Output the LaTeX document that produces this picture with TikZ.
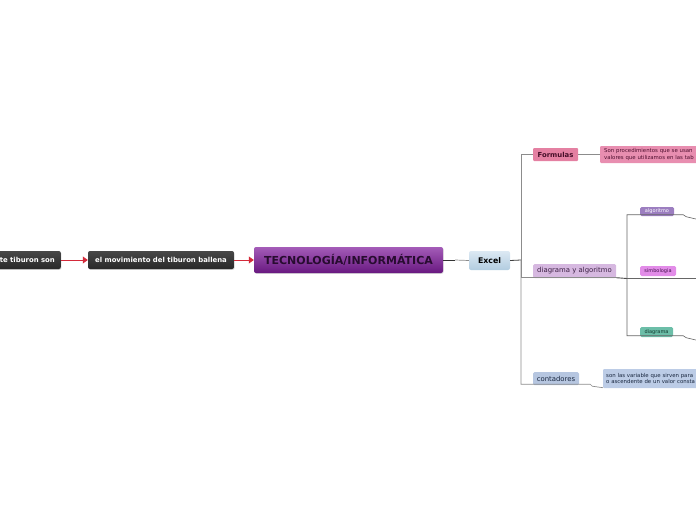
\documentclass[tikz,border=0pt]{standalone}
\usepackage{fontspec}
\setmainfont{DejaVu Sans}
\usetikzlibrary{arrows.meta,shadows}
\definecolor{redarr}{HTML}{D42A3A}
\definecolor{linegray}{HTML}{8C8C8C}
\begin{document}
\begin{tikzpicture}[x=1pt,y=-1pt,
  box/.style={rectangle, rounded corners=2pt, inner sep=0pt, anchor=center},
  darkbox/.style={box, top color=black!72, bottom color=black!84, text=white, font=\fontsize{6.9}{7.5}\selectfont\bfseries,
     drop shadow={shadow xshift=0.6pt, shadow yshift=-0.8pt, opacity=0.35}},
  central/.style={box, top color={rgb,255:red,164;green,92;blue,184}, bottom color={rgb,255:red,104;green,24;blue,128},
     text={rgb,255:red,40;green,12;blue,48}, font=\fontsize{11}{13}\selectfont\bfseries,
     drop shadow={shadow xshift=0.6pt, shadow yshift=-0.8pt, opacity=0.3}},
  excelbox/.style={box, top color={rgb,255:red,220;green,233;blue,243}, bottom color={rgb,255:red,178;green,204;blue,224},
     text=black, font=\fontsize{7.8}{9}\selectfont\bfseries},
  formbox/.style={box, rounded corners=1pt, fill={rgb,255:red,228;green,128;blue,162}, text={rgb,255:red,70;green,14;blue,40},
     font=\fontsize{6.9}{8}\selectfont\bfseries},
  fdescbox/.style={box, rounded corners=1pt, fill={rgb,255:red,232;green,142;blue,176}, text={rgb,255:red,80;green,16;blue,48},
     font=\fontsize{5.4}{6.6}\selectfont, align=left},
  dyabox/.style={box, rounded corners=1.5pt, fill={rgb,255:red,214;green,184;blue,224}, text={rgb,255:red,60;green,32;blue,68},
     font=\fontsize{6.9}{8}\selectfont},
  algbox/.style={box, rounded corners=1.5pt, fill={rgb,255:red,156;green,126;blue,192}, text=white,
     font=\fontsize{5}{6}\selectfont},
  simbbox/.style={box, rounded corners=1.5pt, fill={rgb,255:red,226;green,140;blue,232}, text={rgb,255:red,70;green,16;blue,80},
     font=\fontsize{5}{6}\selectfont},
  diagbox/.style={box, rounded corners=1.5pt, fill={rgb,255:red,108;green,190;blue,168}, text={rgb,255:red,16;green,56;blue,46},
     font=\fontsize{5}{6}\selectfont},
  contbox/.style={box, rounded corners=1.5pt, fill={rgb,255:red,182;green,198;blue,224}, text={rgb,255:red,26;green,40;blue,64},
     font=\fontsize{6.9}{8}\selectfont},
  cdescbox/.style={box, rounded corners=1pt, fill={rgb,255:red,188;green,204;blue,230}, text={rgb,255:red,26;green,40;blue,64},
     font=\fontsize{5.4}{6.6}\selectfont, align=left},
  redarrow/.style={draw=redarr, line width=0.8pt, -{Triangle[length=5pt,width=7pt]}},
  conn/.style={draw=linegray, line width=0.7pt},
  darkconn/.style={draw=black!60, line width=0.6pt},
]
\useasboundingbox (0,0) rectangle (696,520);

% left chain
\node[darkbox, anchor=east, minimum height=18, text width=62pt, align=right, inner xsep=6pt] (n0) at (61,260) {te tiburon son};
\node[darkbox, minimum width=146, minimum height=18] (n1) at (161,260) {el movimiento del tiburon ballena};
\node[central, minimum width=189, minimum height=26] (c) at (348.5,260) {TECNOLOGÍA/INFORMÁTICA};
\draw[redarrow] (n0) -- (n1);
\draw[redarrow] (n1) -- (c);

% Excel
\node[excelbox, minimum width=41, minimum height=19] (excel) at (489.5,260.5) {Excel};
\draw[line width=1pt, black!80] (c.east) -- ++(12,0) coordinate (cmid);
\draw[conn] (cmid) -- (excel.west);
\coordinate (trunk) at (521,260);
\draw[line width=0.8pt, black!75] (excel.east) -- (trunk);

% Formulas
\node[formbox, minimum width=45, minimum height=13] (form) at (555.5,154.5) {Formulas};
\node[fdescbox, anchor=west, minimum height=17, text width=110pt, inner xsep=4pt] (fdesc) at (600,154.5)
  {Son procedimientos que se usan\\valores que utilizamos en las tab};
\draw[conn] (trunk) |- (form.west);
\draw[conn] (form.east) -- (fdesc.west);

% diagrama y algoritmo
\node[dyabox, minimum width=83, minimum height=14] (dya) at (574.5,271) {diagrama y algoritmo};
\coordinate (hub) at (627,278.5);
\draw[conn] (trunk) |- ([yshift=0.5pt]dya.south west) -- ([yshift=0.5pt]dya.south east);
\draw[line width=0.9pt, black!70] ([yshift=0.5pt]dya.south east) -- (hub);

\node[algbox, minimum width=34, minimum height=9] (alg) at (657,211.5) {algoritmo};
\node[simbbox, minimum width=36, minimum height=10] (simb) at (658,271) {simbologia};
\node[diagbox, minimum width=33, minimum height=10] (diag) at (656.5,332) {diagrama};
\coordinate (algend) at (700,220);
\coordinate (simbend) at (700,278.5);
\coordinate (diagend) at (700,341);
\draw[darkconn] (hub) |- ([yshift=1.5pt]alg.south west) -- ([yshift=1.5pt]alg.south east) -- ++(9,0) -- ++(3,2) -- (algend);
\draw[darkconn] (hub) -- (simbend);
\draw[darkconn] (hub) |- ([yshift=1.5pt]diag.south west) -- ([yshift=1.5pt]diag.south east) -- ++(10,0) -- ++(3,2) -- (diagend);

% contadores
\node[contbox, minimum width=46, minimum height=13] (cont) at (556,378.5) {contadores};
\node[cdescbox, anchor=west, minimum height=19, text width=110pt, inner xsep=3pt] (cdesc) at (603,378.5)
  {son las variable que sirven para\\o ascendente de un valor consta};
\draw[conn] (trunk) |- ([yshift=1pt]cont.south west) -- ([yshift=1pt]cont.south east) -- ++(11,0) -- ++(2,2) -- ([yshift=0.5pt]cdesc.south west);
\end{tikzpicture}
\end{document}
